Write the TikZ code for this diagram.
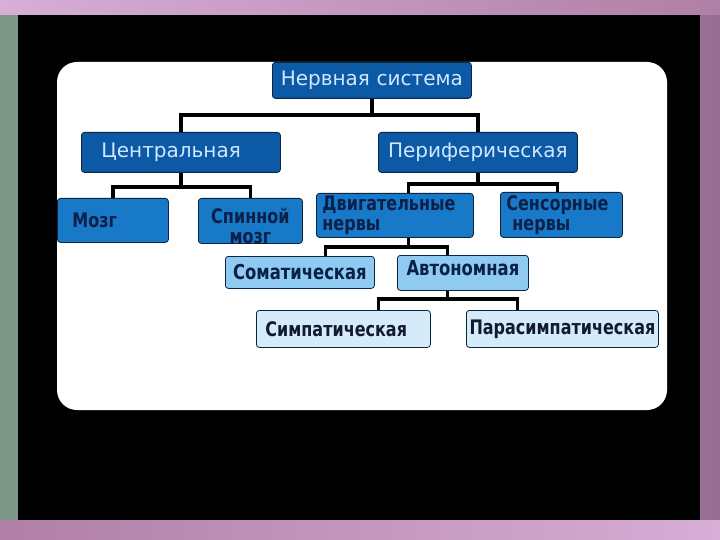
\documentclass[tikz,border=0pt]{standalone}
\usepackage{fontspec}
\setmainfont{DejaVu Sans}
\newfontfamily\tallfont[FakeStretch=0.8]{DejaVu Sans}
\hyphenpenalty=10000
\exhyphenpenalty=10000
\begin{document}
\begin{tikzpicture}[x=1pt,y=-1pt,
    box/.style={draw=BoxEdge,line width=0.8pt,rounded corners=3pt,anchor=north west,inner xsep=8pt,inner ysep=0pt},
    dark/.style={box,fill=BlueA,text=TextA,font=\fontsize{20}{22}\selectfont},
    mid/.style={box,fill=BlueB,text=TextB,font=\tallfont\bfseries\fontsize{20}{20}\selectfont},
    light/.style={box,fill=BlueC,text=TextB,font=\tallfont\bfseries\fontsize{20.5}{21}\selectfont},
    pale/.style={box,fill=BlueD,text=TextC,font=\tallfont\bfseries\fontsize{20}{21}\selectfont},
    link/.style={draw=black,line width=3.5pt}]
    \definecolor{BlueA}{HTML}{0C59A6}
    \definecolor{BlueB}{HTML}{1779C8}
    \definecolor{BlueC}{HTML}{8FCBF0}
    \definecolor{BlueD}{HTML}{D5EBF9}
    \definecolor{TextA}{HTML}{CFE8FF}
    \definecolor{TextB}{HTML}{0B2048}
    \definecolor{TextC}{HTML}{111A30}
    \definecolor{BoxEdge}{HTML}{0A2540}
    \definecolor{BgLeft}{HTML}{7E9886}
    \definecolor{BgMid}{HTML}{C79CC0}
    \definecolor{BgRight}{HTML}{9A6E94}
    \definecolor{BgPinkL}{HTML}{D7AED6}
    \definecolor{BgPinkR}{HTML}{B07FA6}
    % background and frame
    \shade[left color=BgLeft,middle color=BgMid,right color=BgRight] (0,0) rectangle (720,540);
    \shade[left color=BgPinkL,right color=BgPinkR] (0,0) rectangle (720,15);
    \shade[left color=BgPinkR,right color=BgPinkL] (0,520) rectangle (720,540);
    \fill[black] (18,15) rectangle (700,520);
    \fill[white,rounded corners=20pt] (57,62) rectangle (667,410);
    \begin{scope}
    \clip[rounded corners=20pt] (57,62) rectangle (667,410);
    % boxes
    \node[dark,text width=187pt,align=center,minimum height=36pt,inner xsep=6pt] (ns) at (272,62) {Нервная система};
    \node[dark,inner xsep=20pt,text width=159pt,align=left,minimum height=40pt] (cent) at (81,132) {Центральная};
    \node[dark,text width=189pt,align=center,minimum height=40pt,inner xsep=5pt] (per) at (378,132) {Периферическая};
    \node[mid,inner xsep=15pt,text width=81pt,align=left,minimum height=44pt] (mozg) at (57,198) {Мозг};
    \node[mid,text width=92pt,align=center,minimum height=45pt,inner xsep=6pt,text height=5pt,text depth=0pt] (spin) at (198,198) {Спинной\\мозг};
    \node[mid,inner xsep=6pt,text width=145pt,align=left,minimum height=44pt] (dvig) at (316,193) {Двигательные\\нервы};
    \node[mid,inner xsep=6pt,text width=110pt,align=left,minimum height=45pt] (sens) at (500,192) {Сенсорные\\\hspace*{6pt}нервы};
    \node[light,text width=141pt,align=center,minimum height=32pt,inner xsep=4pt] (som) at (225,256) {Соматическая};
    \node[light,text width=121pt,align=center,minimum height=35pt,inner xsep=5pt,text depth=9pt] (avt) at (397,255) {Автономная};
    \node[pale,inner xsep=9pt,text width=156pt,align=left,minimum height=37pt] (sym) at (256,310) {Симпатическая};
    \node[pale,inner xsep=2pt,text width=188pt,align=center,minimum height=37pt] (par) at (466,310) {Парасимпатическая};
    % connectors
    \draw[link] (ns.south) -- ++(0,16) -| (cent.north);
    \draw[link] (ns.south) -- ++(0,16) -| (per.north);
    \draw[link] (cent.south) -- ++(0,14) -| (mozg.north);
    \draw[link] (cent.south) -- ++(0,14) -| (spin.north);
    \draw[link] (per.south) -- ++(0,11) -| ([xshift=13.5pt]dvig.north);
    \draw[link] (per.south) -- ++(0,11) -| ([xshift=-4pt]sens.north);
    \draw[link] ([xshift=13.5pt]dvig.south) -- ++(0,9) -| ([xshift=25.5pt]som.north);
    \draw[link] ([xshift=13.5pt]dvig.south) -- ++(0,9) -| ([xshift=-15.5pt]avt.north);
    \draw[link] ([xshift=-15.5pt]avt.south) -- ++(0,8) -| ([xshift=35pt]sym.north);
    \draw[link] ([xshift=-15.5pt]avt.south) -- ++(0,8) -| ([xshift=-45pt]par.north);
    \end{scope}
\end{tikzpicture}
\end{document}
